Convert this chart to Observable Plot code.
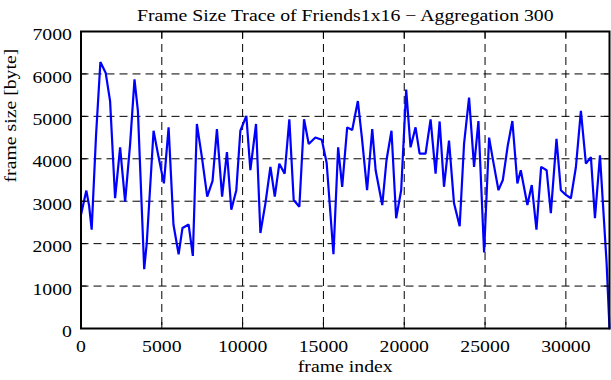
<!DOCTYPE html>
<html><head><meta charset="utf-8">
<script src="https://cdn.jsdelivr.net/npm/d3@7"></script>
<script src="https://cdn.jsdelivr.net/npm/@observablehq/plot@0.6"></script>
<style>html,body{margin:0;padding:0;background:#fff;} svg{display:block}</style>
</head><body><div id="chart"></div>
<script>
const title = "Frame Size Trace of Friends1x16 \u2212 Aggregation 300";
const xLabel = "frame index";
const yLabel = "frame size [byte]";

const frames = [0,330,500,660,930,1200,1530,1800,2110,2420,2730,3040,3310,3520,3910,4070,4490,4800,5130,5420,
  5720,6040,6280,6660,6920,7170,7480,7810,8140,8410,8730,9030,9300,9610,9860,10230,10480,10830,11100,11410,
  11720,11990,12270,12600,12890,13160,13510,13800,14090,14500,14900,15200,15620,15910,16160,16470,16780,17130,17380,17700,
  18020,18230,18640,18900,19210,19500,19810,20120,20390,20700,20950,21320,21630,21940,22190,22460,22770,23080,23430,23700,
  24010,24320,24590,24940,25250,25500,25830,26100,26400,26690,27000,27210,27620,27890,28180,28470,28810,29070,29420,29690,
  30000,30310,30620,30930,31240,31550,31800,32110,32520,32700];
const sizes = [2680,3250,2900,2330,4550,6280,6020,5360,3070,4270,2990,4350,5870,5130,1400,2020,4660,4040,3420,4740,
  2450,1750,2370,2450,1710,4820,4040,3110,3480,4700,3110,4160,2800,3260,4660,5010,3730,4820,2250,2950,
  3810,3110,3885,3650,4930,3030,2870,4930,4350,4500,4450,3900,1750,4270,3340,4740,4680,5360,4500,3260,
  4700,3730,2910,3960,4660,2600,3260,5630,4270,4740,4120,4120,4930,3650,4880,3340,4430,2950,2410,4350,
  5440,3810,4890,1790,4500,3950,3260,3500,4300,4890,3420,3730,2910,3380,2330,3810,3730,2720,4470,3260,
  3150,3070,3800,5130,3885,4040,2600,4080,1550,0];

const xTicks = [0,5000,10000,15000,20000,25000,30000];
const yTicks = [0,1000,2000,3000,4000,5000,6000,7000];
const xGrid = [5000,10000,15000,20000,25000,30000];
const yGrid = [1000,2000,3000,4000,5000,6000];

const data = frames.map((f, i) => ({frame: f, size: sizes[i]}));
const font = "'Liberation Serif', 'Times New Roman', serif";
const fs = 17.5;
const stretch = 1.13;
const plain = d => String(d);

const chart = Plot.plot({
  width: 611, height: 380,
  marginLeft: 80.5, marginRight: 2, marginTop: 31, marginBottom: 52,
  style: {fontFamily: font, fontSize: fs + "px", background: "white", color: "black"},
  x: {domain: [0, 32700]},
  y: {domain: [0, 7000]},
  marks: [
    Plot.gridX(xGrid, {stroke: "black", strokeOpacity: 1, strokeWidth: 1, strokeDasharray: "8,5"}),
    Plot.gridY(yGrid, {stroke: "black", strokeOpacity: 1, strokeWidth: 1, strokeDasharray: "8,5"}),
    Plot.line(data, {x: "frame", y: "size", stroke: "#0000ff", strokeWidth: 2.2, strokeLinejoin: "miter"}),
    Plot.axisX(xTicks, {anchor: "bottom", tickSize: 6, dy: -6, fill: "none", label: null}),
    Plot.axisX(xTicks, {anchor: "top", tickSize: 6, dy: 6, fill: "none", label: null}),
    Plot.axisY(yTicks, {anchor: "left", tickSize: 6, dx: 6, fill: "none", label: null}),
    Plot.axisY(yTicks, {anchor: "right", tickSize: 6, dx: -6, fill: "none", label: null}),
    Plot.axisX(xTicks, {anchor: "bottom", tickSize: 0, tickPadding: 11, label: null, fill: "black", tickFormat: plain}),
    Plot.axisY(yTicks, {anchor: "left", tickSize: 0, tickPadding: 9, dy: 3, label: null, fill: "black", tickFormat: plain}),
    Plot.frame({stroke: "black", strokeWidth: 2}),
    Plot.text([title], {frameAnchor: "top", dy: -22.6, fill: "black"}),
    Plot.text([xLabel], {frameAnchor: "bottom", dy: 43, fill: "black"}),
    Plot.text([yLabel], {frameAnchor: "left", dx: -71, dy: 2.5, rotate: -90, fill: "black"})
  ]
});

chart.querySelectorAll("text").forEach(t => {
  const x = +t.getAttribute("x") || 0;
  const y = +t.getAttribute("y") || 0;
  const tr = t.getAttribute("transform") || "";
  t.setAttribute("transform", `${tr} translate(${x},${y}) scale(${stretch},1) translate(${-x},${-y})`);
});

document.getElementById("chart").appendChild(chart);
</script>
</body></html>
